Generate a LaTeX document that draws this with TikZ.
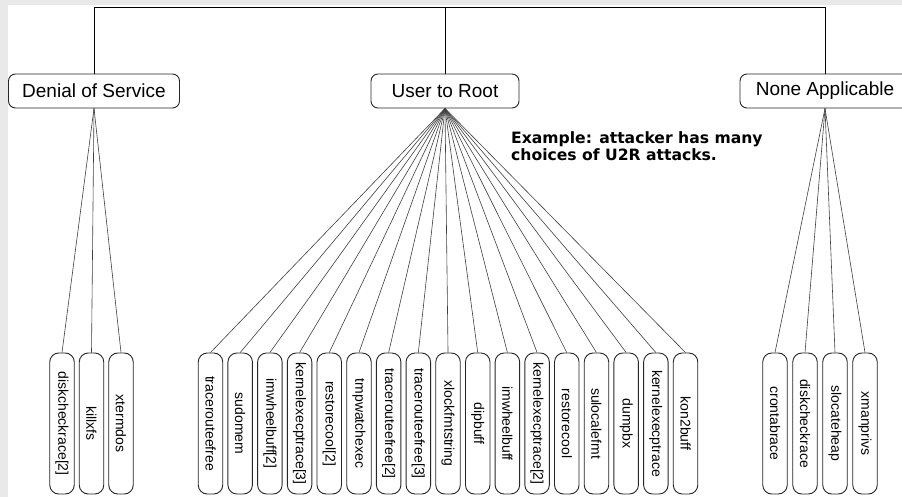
\documentclass[tikz,border=0pt]{standalone}
\usepackage{fontspec}
\usepackage{graphicx}
\setmainfont{Liberation Sans}
\newfontfamily\notefont{DejaVu Sans}
\definecolor{marginfill}{RGB}{233,233,233}
\begin{document}
\begin{tikzpicture}[x=1pt,y=-1pt,
  catbox/.style={draw=black!85, line width=0.9pt, rounded corners=7pt,
    minimum height=34pt, inner sep=0pt, font=\fontsize{19}{21}\selectfont},
  leafbox/.style={draw=black!85, line width=0.9pt, rounded corners=9pt,
    minimum width=24.5pt, minimum height=141pt, inner sep=0pt,
    font=\fontsize{14}{16}\selectfont},
  trunk/.style={line width=1pt, black},
  fan/.style={line width=0.6pt, black!75},
  note/.style={anchor=north west, align=left, inner sep=0pt,
    font=\notefont\bfseries\fontsize{15.6}{17}\selectfont}]

% canvas with a light grey margin on the left and top
\useasboundingbox (0,0) rectangle (902,497);
\clip (0,0) rectangle (902,497);
\fill[marginfill] (0,0) rectangle (902,497);
\fill[white] (8,5) rectangle (902,497);

% attack categories
\node[catbox, minimum width=171pt] (dos)  at (94,91)  {Denial of Service};
\node[catbox, minimum width=148pt] (u2r)  at (445,91) {User to Root};
\node[catbox, minimum width=170pt] (none) at (825,91) {None Applicable};

% common root bar
\coordinate (bar) at (0,8);
\draw[trunk] (dos.north) -- (dos.north |- bar) -- (none.north |- bar) -- (none.north);
\draw[trunk] (u2r.north) -- (u2r.north |- bar);

% denial of service attacks
\foreach \t [count=\i from 0] in {diskcheckrace[2], killxfs, xtermdos} {
  \node[leafbox] (d\i) at ({62+29.5*\i},423.5) {\rotatebox{-90}{\t}};
  \draw[fan] (dos.south) -- (d\i.north);
}

% user to root attacks
\foreach \t [count=\i from 0] in {tracerouteefree, sudomem, imwheelbuff[2],
    kernelexecptrace[3], restorecool[2], tmpwatchexec, tracerouteefree[2],
    tracerouteefree[3], xlockfmtstring, dipbuff, imwheelbuff,
    kernelexecptrace[2], restorecool, sulocalefmt, dumpbx,
    kernelexecptrace, kon2buff} {
  \node[leafbox] (u\i) at ({210.5+29.69*\i},423.5) {\rotatebox{-90}{\t}};
  \draw[fan] (u2r.south) -- (u\i.north);
}

% attacks with no applicable category
\foreach \t [count=\i from 0] in {crontabrace, diskcheckrace, slocateheap, xmanprivs} {
  \node[leafbox] (n\i) at ({775+30*\i},423.5) {\rotatebox{-90}{\t}};
  \draw[fan] (none.south) -- (n\i.north);
}

\node[note] (ex) at (511,131) {Example: attacker has many\\choices of U2R attacks.};
\end{tikzpicture}
\end{document}
